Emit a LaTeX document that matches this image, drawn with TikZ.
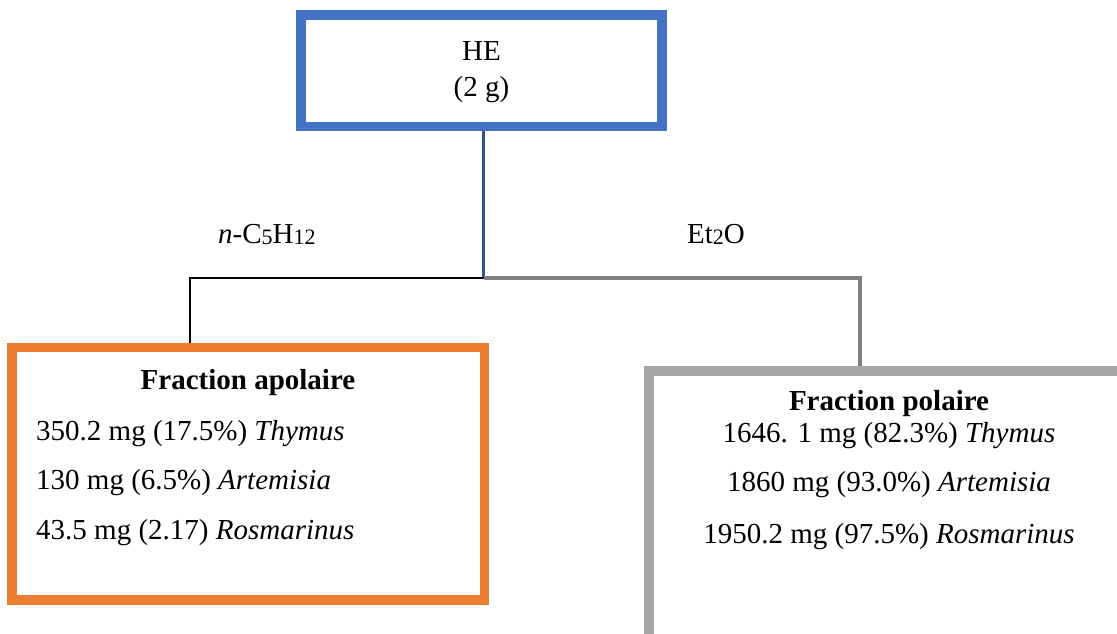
\documentclass[tikz,border=0pt]{standalone}
\usepackage{fontspec}
\setmainfont{Liberation Serif}
\definecolor{heblue}{HTML}{4472C4}
\definecolor{darkblue}{HTML}{2F5597}
\definecolor{apoorange}{HTML}{ED7D31}
\definecolor{polgray}{HTML}{A5A5A5}
\definecolor{lingray}{HTML}{7F7F7F}
\newcommand{\wsub}[1]{{\fontsize{22}{22}\selectfont\raisebox{-1pt}{#1}}}
\tikzset{
  boxstyle/.style={draw, inner sep=0pt, line width=6.4pt, fill=white},
  txt/.style={inner sep=0pt, font=\fontsize{29}{35}\selectfont},
  ttl/.style={inner sep=0pt, font=\fontsize{29}{35}\selectfont\bfseries},
}
\begin{document}
\begin{tikzpicture}[x=1pt, y=-1pt]
\useasboundingbox (0,0) rectangle (1117,634);
\clip (0,0) rectangle (1117,634);
\fill[white] (0,0) rectangle (1117,634);
% coordinates of the connector tree
\coordinate (J) at (483.5,278);
\coordinate (L) at (190,278);
\coordinate (R) at (860,278);
% boxes
\node[boxstyle, draw=heblue, minimum width=357.8pt, minimum height=108pt] (he) at (481.4,70.7) {};
\node[boxstyle, draw=apoorange, minimum width=469.6pt, minimum height=249.5pt] (apo) at (248.2,473.75) {};
\node[boxstyle, draw=polgray, minimum width=478pt, minimum height=265pt] (pol) at (889.3,505) {};
% connectors
\draw[darkblue, line width=3.5pt] (J |- he.south) -- (J);
\draw[black, line width=1.6pt] (J) -- (L) -- ([yshift=-3pt]L |- apo.north);
\draw[lingray, line width=3.2pt] (J) -- (R) -- ([yshift=-3pt]R |- pol.north);
% redraw borders over connector ends
\draw[heblue, line width=6.4pt] (he.south west) rectangle (he.north east);
\draw[apoorange, line width=6.4pt] (apo.south west) rectangle (apo.north east);
\draw[polgray, line width=6.4pt] (pol.south west) rectangle (pol.north east);
% texts
\node[txt, anchor=base] (he1) at (481.4,60.7) {HE};
\node[txt, anchor=base] (he2) at (481.4,96) {(2 g)};
\node[txt, anchor=base west] (lab1) at (218,243) {\textit{n}-C\wsub{5}H\wsub{12}};
\node[txt, anchor=base west] (lab2) at (687,243) {Et\wsub{2}O};
\node[ttl, anchor=base] (apot) at (248,389.3) {Fraction apolaire};
\node[txt, anchor=base west] (apo1) at (36,440) {350.2 mg (17.5\%) \textit{Thymus}};
\node[txt, anchor=base west] (apo2) at (36,489) {130 mg (6.5\%) \textit{Artemisia}};
\node[txt, anchor=base west] (apo3) at (36,539) {43.5 mg (2.17) \textit{Rosmarinus}};
\node[ttl, anchor=base] (polt) at (889,410) {Fraction polaire};
\node[txt, anchor=base] (pol1) at (889,442.7) {1646. 1 mg (82.3\%) \textit{Thymus}};
\node[txt, anchor=base] (pol2) at (889,491.7) {1860 mg (93.0\%) \textit{Artemisia}};
\node[txt, anchor=base] (pol3) at (889,543.3) {1950.2 mg (97.5\%) \textit{Rosmarinus}};
\end{tikzpicture}
\end{document}
